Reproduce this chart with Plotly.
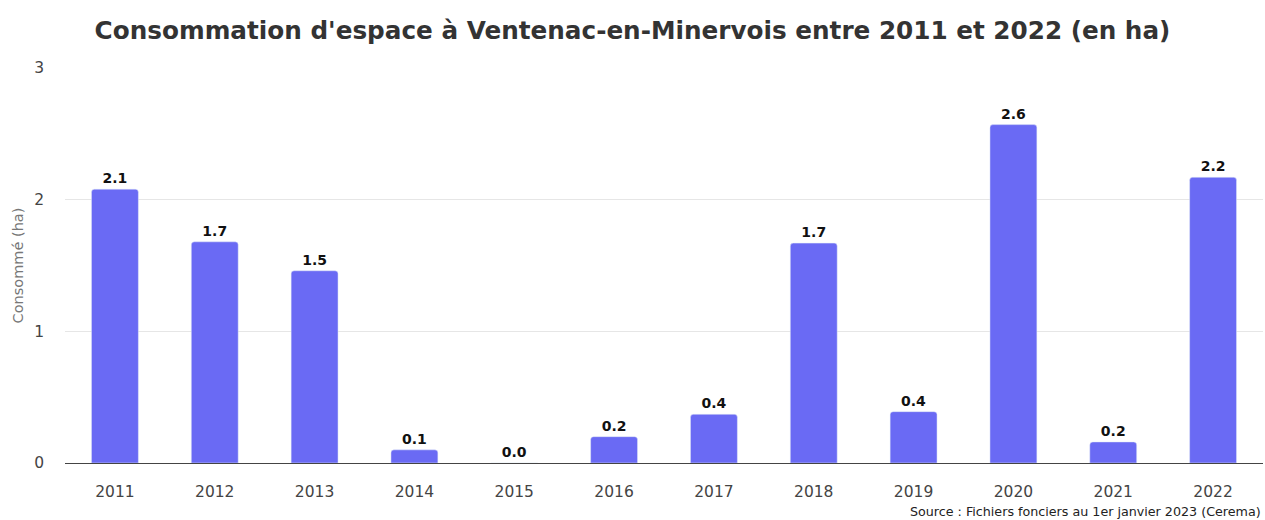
import plotly.graph_objects as go

years = ["2011", "2012", "2013", "2014", "2015", "2016", "2017", "2018", "2019", "2020", "2021", "2022"]
values = [2.08, 1.68, 1.46, 0.10, 0.0, 0.20, 0.37, 1.67, 0.39, 2.57, 0.16, 2.17]
labels = [f"{v:.1f}" for v in values]
y_ticks = [0, 1, 2, 3]

fig = go.Figure(go.Bar(
    x=years, y=values, text=labels, textposition="outside",
    textfont=dict(family="DejaVu Sans", size=14, color="#111111", weight="bold"),
    marker=dict(color="#6A6AF4", cornerradius=3),
    cliponaxis=False,
))

fig.update_layout(
    width=1265, height=520,
    margin=dict(l=65, r=2, t=68, b=57),
    paper_bgcolor="white", plot_bgcolor="white",
    bargap=0.53,
    title=dict(text="<b>Consommation d'espace à Ventenac-en-Minervois entre 2011 et 2022 (en ha)</b>",
               x=0.5, xanchor="center", y=1 - 30 / 520, yanchor="middle",
               font=dict(family="DejaVu Sans", size=24.7, color="#333333")),
    font=dict(family="DejaVu Sans", size=15, color="#444444"),
    showlegend=False,
    annotations=[dict(text="Source : Fichiers fonciers au 1er janvier 2023 (Cerema)",
                      xref="paper", yref="paper", x=1, y=-0.124, xanchor="right", yanchor="middle",
                      showarrow=False, font=dict(family="DejaVu Sans", size=12.7, color="#222222"))],
)
fig.update_xaxes(type="category", showline=True, linecolor="#444444", linewidth=1,
                 ticks="outside", ticklen=14, tickcolor="rgba(0,0,0,0)",
                 tickfont=dict(size=15.5, color="#444444"))
fig.update_yaxes(range=[0, 3], tickvals=y_ticks, showgrid=True, gridcolor="#e6e6e6",
                 zeroline=False, ticks="", ticklabelstandoff=20,
                 title=dict(text="Consommé (ha)", font=dict(size=14.5, color="#777777"), standoff=7),
                 tickfont=dict(size=15.5, color="#444444"))

fig.write_html("out.html", config={"displayModeBar": False},
               post_script="document.body.style.margin='0';document.body.style.overflow='hidden';")
